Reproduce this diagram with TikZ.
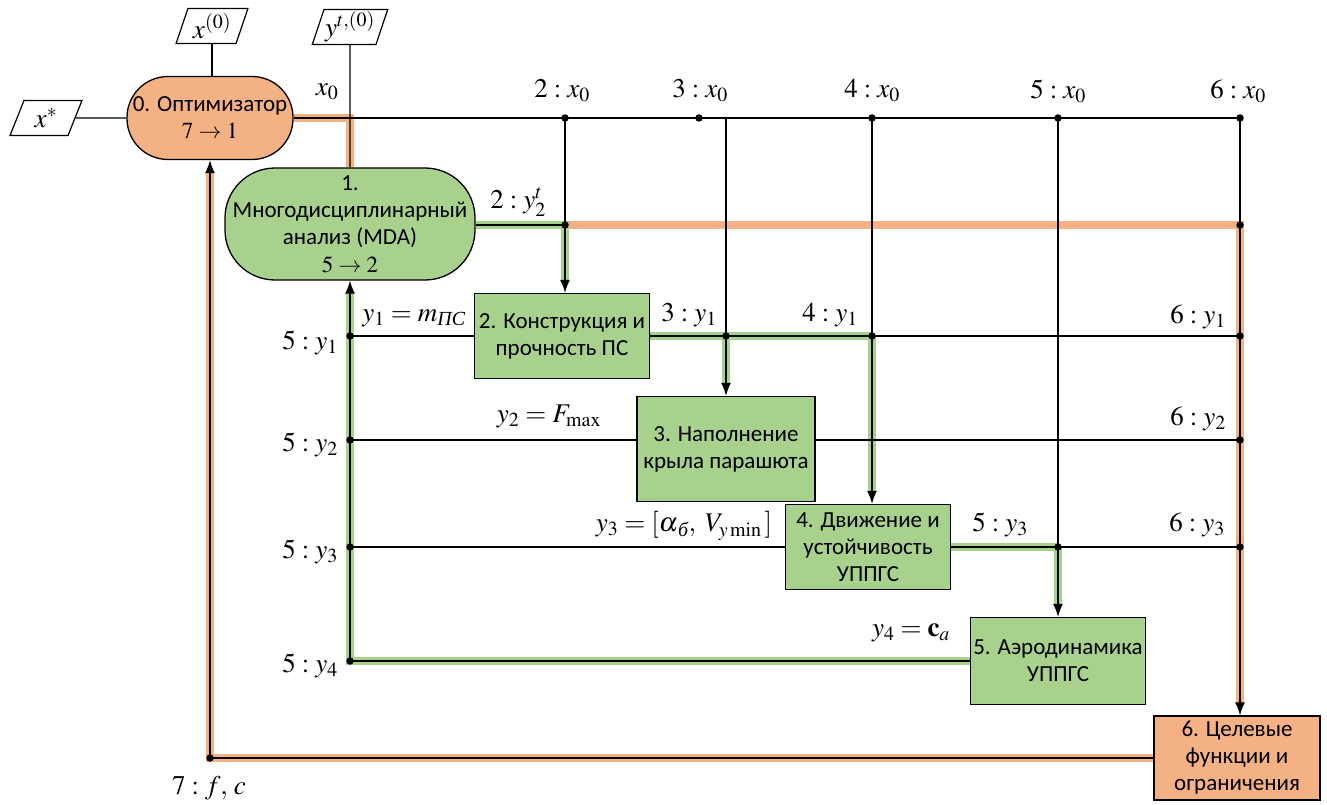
\documentclass[tikz,border=0pt]{standalone}
\usepackage{amsmath}
\usepackage{mathptmx}
\usepackage{fontspec}
\setmainfont{Liberation Serif}
\newfontfamily\blkfont{Carlito}
\usetikzlibrary{shapes.geometric,arrows.meta,backgrounds}
\definecolor{orfill}{HTML}{F4B183}
\definecolor{grfill}{HTML}{A9D18E}
\definecolor{orband}{HTML}{F4B183}
\definecolor{grband}{HTML}{A9D18E}
\newcommand\mylblfont{\fontsize{27}{31}\selectfont}
\begin{document}
\begin{tikzpicture}[x=1pt,y=-1pt,
  wire/.style={line width=1.3pt},
  gband/.style={draw=grband,line width=8pt},
  oband/.style={draw=orband,line width=8pt},
  arr/.style={-{Latex[length=13pt,width=10pt]}},
  dot/.style={circle,fill=black,inner sep=0pt,minimum size=7.5pt},
  blk/.style={draw,line width=1.3pt,fill=grfill,align=center,inner sep=0pt,
    font=\blkfont\fontsize{23}{27}\selectfont},
  oblk/.style={blk,fill=orfill},
  term/.style={blk,rounded corners=#1},
  par/.style={trapezium,trapezium left angle=70,trapezium right angle=110,
    trapezium stretches=true,draw,line width=1.2pt,fill=white,inner sep=1pt,
    minimum width=72pt,minimum height=35pt,font=\mylblfont},
  lbl/.style={font=\mylblfont,inner sep=0pt}
]
\useasboundingbox (0,0) rectangle (1327,805);

% input/output boxes
\node[par] (xs) at (46,118) {$x^{*}$};
\node[par] (x0p) at (212,26) {$x^{(0)}$};
\node[par] (yt) at (350,27) {$y^{t,(0)}$};

% process nodes
\node[term=41pt,fill=orfill,minimum width=166pt,minimum height=83pt] (opt) at (210,118)
  {0. Оптимизатор\\{\fontsize{23}{26}\selectfont$7\rightarrow 1$}};
\node[term=50pt,minimum width=250pt,minimum height=112pt] (mda) at (350,224)
  {1.\\Многодисциплинарный\\анализ (MDA)\\[1pt]{\fontsize{23}{26}\selectfont$5\rightarrow 2$}};
\node[blk,minimum width=175pt,minimum height=85pt] (b2) at (562,336)
  {2. Конструкция и\\прочность ПС};
\node[blk,minimum width=178pt,minimum height=105pt] (b3) at (726,449)
  {3. Наполнение\\крыла парашюта};
\node[blk,minimum width=165pt,minimum height=85pt] (b4) at (868,547)
  {4. Движение и\\устойчивость\\УППГС};
\node[blk,minimum width=175pt,minimum height=87pt] (b5) at (1058,661)
  {5. Аэродинамика\\УППГС};
\node[oblk,minimum width=166pt,minimum height=84pt] (b6) at (1237,758)
  {6. Целевые\\функции и\\ограничения};

% junction dots
\node[dot] (d2x) at (565,118) {};
\node[dot] (d3x) at (699,118) {};
\node[dot] (d4x) at (872,118) {};
\node[dot] (d5x) at (1058,118) {};
\node[dot] (d6x) at (1240,118) {};
\node[dot] (d2y) at (565,225) {};
\node[dot] (d6y) at (1240,225) {};
\node[dot] (l1) at (350,336) {};
\node[dot] (j31) at (726,336) {};
\node[dot] (j41) at (872,336) {};
\node[dot] (r1) at (1240,336) {};
\node[dot] (l2) at (350,440) {};
\node[dot] (r2) at (1240,440) {};
\node[dot] (l3) at (350,547) {};
\node[dot] (j53) at (1058,547) {};
\node[dot] (r3) at (1240,547) {};
\node[dot] (l4) at (350,661) {};
\node[dot] (f7) at (210,758) {};
\coordinate (t3) at (726,118);
\coordinate (c350) at (350,118);

% coloured bands
\begin{scope}[on background layer]
  \draw[oband] (opt.east) -- (c350) -- (mda.north);
  \draw[oband,shorten >=11pt] (d2y.center) -- (d6y.center) -- (d6y.center |- b6.north);
  \draw[gband,shorten >=11pt] (d2y.center -| mda.east) -- (d2y.center) -- (d2y.center |- b2.north);
  \draw[gband] (b2.east) -- (j41.center);
  \draw[gband,shorten >=11pt] (j31.center) -- (j31.center |- b3.north);
  \draw[gband,shorten >=11pt] (j41.center) -- (j41.center |- b4.north);
  \draw[gband] (b4.east) -- (j53.center);
  \draw[gband,shorten >=11pt] (j53.center) -- (j53.center |- b5.north);
  \draw[gband,shorten >=11pt] (b5.west) -- (l4.center) -- (mda.south);
  \draw[oband,shorten >=11pt] (b6.west) -- (f7.center) -- (opt.south);
\end{scope}

% black wires
\draw[wire] (xs.east) -- (opt.west);
\draw[wire] (x0p.south) -- (x0p.south |- opt.north);
\draw[wire] (yt.south) -- (mda.north);
\draw[wire] (opt.east) -- (d6x.center);
\draw[wire] (d2x.center) -- (d2y.center);
\draw[wire] (t3) -- (j31.center);
\draw[wire] (d4x.center) -- (j41.center);
\draw[wire] (d5x.center) -- (j53.center);
\draw[wire] (d6x.center) -- (d6y.center);
\draw[wire] (d2y.center -| mda.east) -- (d2y.center);
\draw[wire,arr] (d2y.center) -- (d2y.center |- b2.north);
\draw[wire] (l1.center) -- (b2.west);
\draw[wire] (b2.east) -- (r1.center);
\draw[wire,arr] (j31.center) -- (j31.center |- b3.north);
\draw[wire,arr] (j41.center) -- (j41.center |- b4.north);
\draw[wire] (l2.center) -- (l2.center -| b3.west);
\draw[wire] (r2.center -| b3.east) -- (r2.center);
\draw[wire] (l3.center) -- (b4.west);
\draw[wire] (b4.east) -- (r3.center);
\draw[wire,arr] (j53.center) -- (j53.center |- b5.north);
\draw[wire,arr] (b5.west) -- (l4.center) -- (mda.south);
\draw[wire,arr] (d6y.center) -- (d6y.center |- b6.north);
\draw[wire,arr] (b6.west) -- (f7.center) -- (opt.south);

% labels
\node[lbl] (lx0) at (327,92) {$x_0$};
\node[lbl] (l2x) at (562,91) {$2:x_0$};
\node[lbl] (l3x) at (700,91) {$3:x_0$};
\node[lbl] (l4x) at (872,91) {$4:x_0$};
\node[lbl] (l5x) at (1058,91) {$5:x_0$};
\node[lbl] (l6x) at (1238,91) {$6:x_0$};
\node[lbl] (l2y) at (518,202) {$2:y_2^t$};
\node[lbl] (ly1) at (414,318) {$y_1=m_{\text{\itshape ПС}}$};
\node[lbl,anchor=east] (k1) at (338,343) {$5:y_1$};
\node[lbl] (k31) at (689,315) {$3:y_1$};
\node[lbl] (k41) at (830,315) {$4:y_1$};
\node[lbl] (k61) at (1198,317) {$6:y_1$};
\node[lbl] (ly2) at (549,416) {$y_2=F_{\max}$};
\node[lbl,anchor=east] (k2) at (338,445) {$5:y_2$};
\node[lbl] (k62) at (1198,419) {$6:y_2$};
\node[lbl] (ly3) at (684,526) {$y_3=[\alpha_{\,\text{\itshape б}},\;V_{y\min}\,]$};
\node[lbl,anchor=east] (k3) at (338,552) {$5:y_3$};
\node[lbl] (k53) at (1000,525) {$5:y_3$};
\node[lbl] (k63) at (1197,525) {$6:y_3$};
\node[lbl] (ly4) at (911,633) {$y_4=\mathbf{c}_a$};
\node[lbl,anchor=east] (k4) at (338,666) {$5:y_4$};
\node[lbl] (k7) at (209,788) {$7:f,\,c$};
\end{tikzpicture}
\end{document}
